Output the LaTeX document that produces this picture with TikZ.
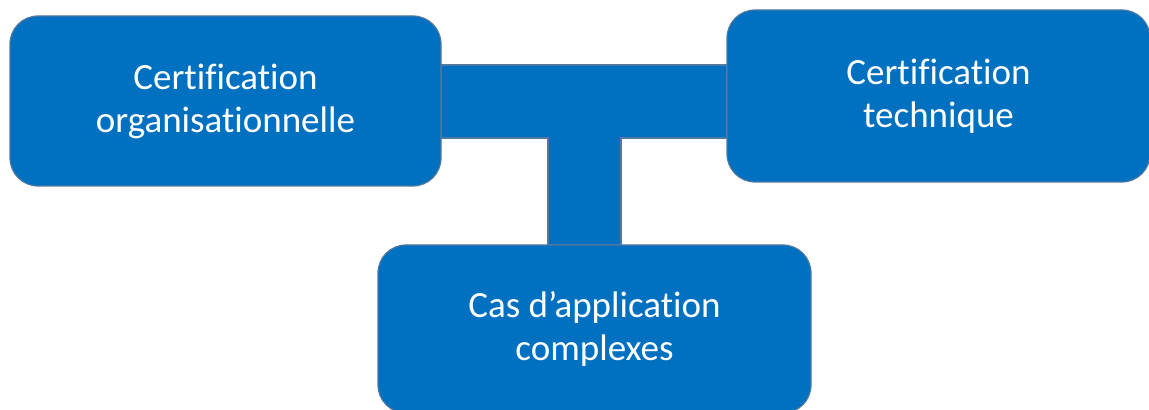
\documentclass[tikz,border=0pt]{standalone}
\usepackage{fontspec}
\setmainfont{Carlito}[Ligatures=NoCommon]
\usetikzlibrary{backgrounds}

\definecolor{boxblue}{RGB}{0,112,192}
\definecolor{boxline}{RGB}{80,120,160}

\tikzset{
    certbox/.style={draw=boxline, fill=boxblue, line width=0.6pt, rounded corners=14pt,
        text=white, align=center, inner sep=0pt, font=\fontsize{18.5}{21.5}\selectfont},
    bar/.style={draw=boxline, fill=boxblue, line width=0.6pt}
}

\begin{document}
\begin{tikzpicture}[x=0.5pt, y=-0.5pt]
    \useasboundingbox (0,0) rectangle (1149,410);
    \clip (0,0) rectangle (1149,410);

    \node[certbox, minimum width=215.5pt, minimum height=85pt] (orga) at (225.5,101) {Certification\\organisationnelle};
    \node[certbox, minimum width=211.5pt, minimum height=86pt] (tech) at (938.5,96) {Certification\\technique};
    \node[certbox, minimum width=216.5pt, minimum height=84pt] (cas) at (594.5,329) {Cas d’application\\complexes};

    \coordinate (bartop) at (0,65);
    \coordinate (barbot) at (0,138);
    \coordinate (stemleft) at (548,0);
    \coordinate (stemright) at (621,0);

    \begin{scope}[on background layer]
    \draw[bar] (orga.east |- bartop) -- (tech.west |- bartop) -- (tech.west |- barbot)
        -- (stemright |- barbot) -- (stemright |- cas.north) -- (stemleft |- cas.north)
        -- (stemleft |- barbot) -- (orga.east |- barbot) -- cycle;
    \end{scope}
\end{tikzpicture}
\end{document}
